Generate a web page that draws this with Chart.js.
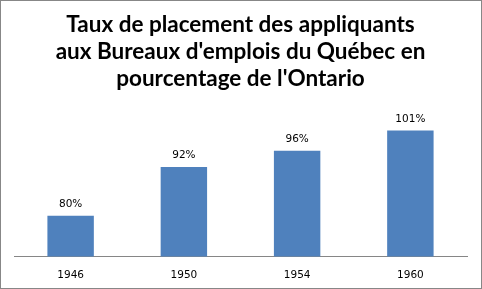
<!DOCTYPE html>
<html lang="fr">
<head>
    <meta charset="UTF-8">
    <title>Taux de placement</title>
    <script src="https://cdn.jsdelivr.net/npm/chart.js@4.4.1/dist/chart.umd.min.js"></script>
    <style>
        html, body {margin: 0; padding: 0; background: #fff;}
        #wrap {width: 482px; height: 289px; border: 1px solid #878787; box-sizing: border-box; position: relative;}
        #wrap canvas {display: block;}
    </style>
</head>
<body>
    <div id="wrap">
        <canvas id="barChart" width="480" height="287"></canvas>
    </div>

    <script>
        const years = ['1946', '1950', '1954', '1960'];
        const rates = [80, 92, 96, 101];
        const titleLines = ['Taux de placement des appliquants', "aux Bureaux d'emplois du Québec en", "pourcentage de l'Ontario"];

        // draws the "80%" labels above each bar
        const valueLabels = {
            id: 'valueLabels',
            afterDatasetsDraw(chart) {
                const ctx = chart.ctx;
                const meta = chart.getDatasetMeta(0);
                ctx.save();
                ctx.font = '10.5px "DejaVu Sans"';
                ctx.fillStyle = '#000';
                ctx.textAlign = 'center';
                ctx.textBaseline = 'alphabetic';
                meta.data.forEach(function (bar, i) {
                    ctx.fillText(rates[i] + '%', bar.x, bar.y - 9);
                });
                ctx.restore();
            }
        };

        const ctx = document.getElementById('barChart').getContext('2d');
        new Chart(ctx, {
            type: 'bar',
            data: {
                labels: years,
                datasets: [{
                    data: rates,
                    backgroundColor: '#4F81BD',
                    barPercentage: 0.41,
                    categoryPercentage: 1
                }]
            },
            options: {
                responsive: false,
                animation: false,
                layout: {padding: {left: 13, right: 14, top: 0, bottom: 1}},
                plugins: {
                    legend: {display: false},
                    tooltip: {enabled: false},
                    title: {
                        display: true,
                        text: titleLines,
                        color: '#000',
                        font: {family: 'Lato', size: 22.5, weight: 'bold', lineHeight: 1.2},
                        padding: {top: 10, bottom: 2}
                    }
                },
                scales: {
                    x: {
                        grid: {display: false},
                        border: {display: true, color: '#868686'},
                        ticks: {color: '#000', padding: 5, font: {family: 'DejaVu Sans', size: 10.5}}
                    },
                    y: {
                        display: false,
                        min: 70,
                        max: 110
                    }
                }
            },
            plugins: [valueLabels]
        });
    </script>
</body>
</html>
